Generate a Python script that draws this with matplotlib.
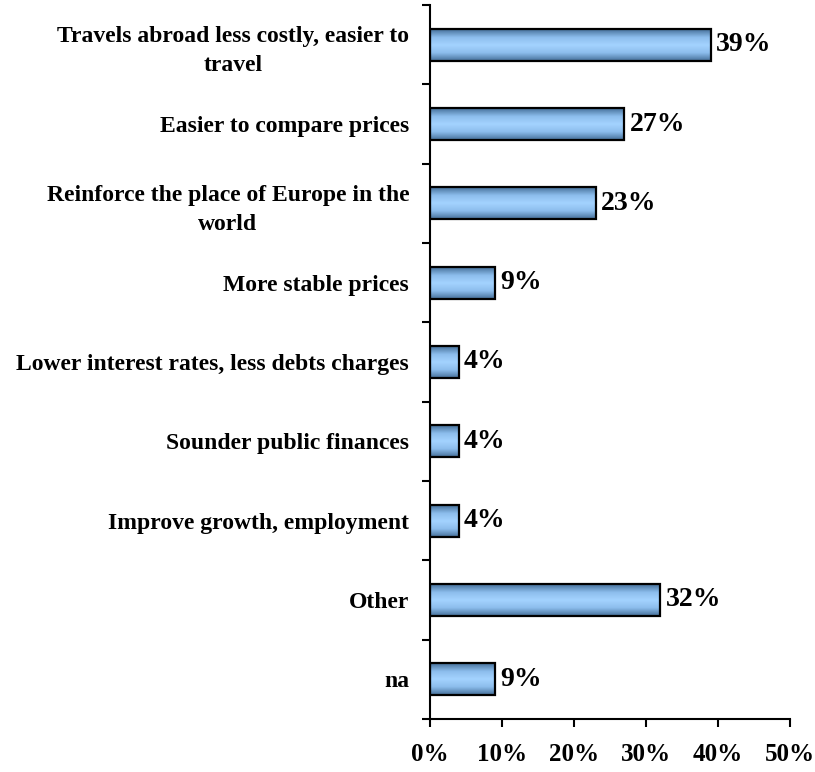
import matplotlib.pyplot as plt
import numpy as np
from matplotlib.colors import LinearSegmentedColormap

# data (top to bottom as shown)
categories = [
    "Travels abroad less costly, easier to\ntravel",
    "Easier to compare prices",
    "Reinforce the place of Europe in the\nworld",
    "More stable prices",
    "Lower interest rates, less debts charges",
    "Sounder public finances",
    "Improve growth, employment",
    "Other",
    "na",
]
values = [39, 27, 23, 9, 4, 4, 4, 32, 9]
xticks = [0, 10, 20, 30, 40, 50]

plt.rcParams['font.family'] = ['Liberation Serif', 'DejaVu Serif']
plt.rcParams['font.weight'] = 'bold'

fig = plt.figure(figsize=(8.15, 7.72), dpi=100)
ax = fig.add_axes([0.5276, 0.0687, 0.4417, 0.9248])

n = len(categories)
ypos = np.arange(n)[::-1]

bars = ax.barh(ypos, values, height=0.4, color='none', edgecolor='black',
               linewidth=1.6, zorder=3)

# vertical gradient fill: darker at top/bottom, light in middle
cmap = LinearSegmentedColormap.from_list(
    'bar', ['#46709a', '#8cbdec', '#a4d3ff', '#8cbdec', '#46709a'])
grad = np.linspace(0, 1, 64).reshape(-1, 1)
for b in bars:
    x0, y0 = b.get_x(), b.get_y()
    w, h = b.get_width(), b.get_height()
    ax.imshow(grad, cmap=cmap, aspect='auto', extent=[x0, x0 + w, y0, y0 + h],
              origin='lower', zorder=2, interpolation='bicubic')

for y, v in zip(ypos, values):
    ax.text(v + 0.7, y, f"{v}%", va='center', ha='left', fontsize=20,
            fontweight='bold')

ax.set_xlim(0, 50)
ax.set_ylim(-0.5, n - 0.5)
ax.set_xticks(xticks)
ax.set_xticklabels([f"{t}%" for t in xticks], fontsize=18, fontweight='bold')
ax.set_yticks(ypos)
ax.set_yticklabels(categories, fontsize=17, fontweight='bold',
                   multialignment='center', linespacing=1.5)
ax.set_yticks(np.arange(-0.5, n, 1), minor=True)
ax.tick_params(axis='y', which='major', length=0, pad=15)
ax.tick_params(axis='y', which='minor', length=6, width=1.5, direction='out')
ax.tick_params(axis='x', length=6, width=1.5, direction='out', pad=11)

for s in ['top', 'right']:
    ax.spines[s].set_visible(False)
for s in ['left', 'bottom']:
    ax.spines[s].set_linewidth(1.5)

fig.savefig('out.png', dpi=100)
